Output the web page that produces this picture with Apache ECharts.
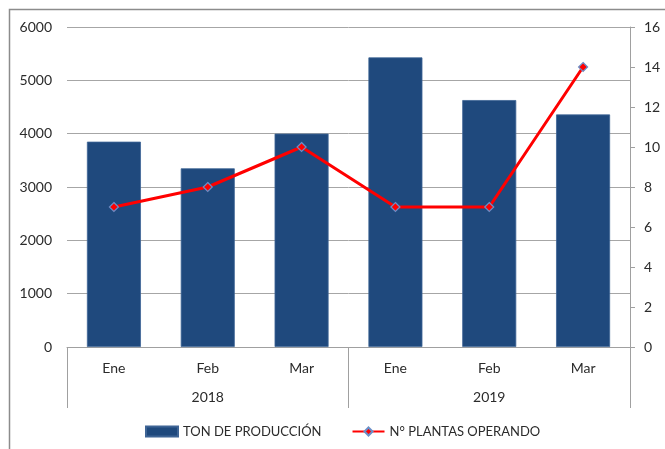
<!DOCTYPE html>
<html>
<head>
<meta charset="utf-8">
<script src="https://cdn.jsdelivr.net/npm/echarts@6/dist/echarts.min.js"></script>
<style>
html,body{margin:0;padding:0;background:#fff;}
#chart{width:665px;height:449px;}
</style>
</head>
<body>
<div id="chart"></div>
<script>
var months = ['Ene', 'Feb', 'Mar', 'Ene', 'Feb', 'Mar'];
var years = ['2018', '2019'];
var tonProduccion = [3850, 3350, 4000, 5430, 4630, 4360];
var plantasOperando = [7, 8, 10, 7, 7, 14];
var leftTicks = {min: 0, max: 6000, interval: 1000};
var rightTicks = {min: 0, max: 16, interval: 2};

var FONT = 'Lato, "Liberation Sans", sans-serif';
var TXT = '#2b2b2b';

var chart = echarts.init(document.getElementById('chart'), null, {renderer: 'canvas'});
chart.setOption({
  animation: false,
  backgroundColor: '#ffffff',
  textStyle: {fontFamily: FONT},
  graphic: [{
    type: 'rect',
    shape: {x: 9.5, y: 9.5, width: 700, height: 500},
    style: {fill: 'none', stroke: '#8c8c8c', lineWidth: 1.5},
    silent: true
  }],
  grid: {left: 67, right: 35, top: 27, bottom: 102, containLabel: false},
  legend: {
    bottom: 6,
    left: 140,
    itemWidth: 32,
    itemHeight: 10,
    itemGap: 30,
    textStyle: {fontFamily: FONT, fontSize: 13, color: TXT},
    data: [
      {name: 'TON DE PRODUCCIÓN', icon: 'rect'},
      {name: 'N° PLANTAS OPERANDO'}
    ]
  },
  xAxis: [{
    type: 'category',
    data: months,
    position: 'bottom',
    axisLine: {show: true, lineStyle: {color: '#a0a0a0', width: 1}},
    axisTick: {show: false},
    axisLabel: {fontFamily: FONT, fontSize: 14, color: TXT, margin: 14}
  }, {
    type: 'category',
    data: years,
    position: 'bottom',
    axisLine: {show: false},
    axisTick: {show: true, length: 61, lineStyle: {color: '#a0a0a0', width: 1}},
    axisLabel: {fontFamily: FONT, fontSize: 14, color: TXT, margin: 43}
  }],
  yAxis: [{
    type: 'value',
    min: leftTicks.min, max: leftTicks.max, interval: leftTicks.interval,
    axisLine: {show: false},
    axisTick: {show: false},
    splitLine: {show: true, lineStyle: {color: '#a6a6a6', width: 1}},
    axisLabel: {fontFamily: FONT, fontSize: 14, color: TXT, margin: 15,
      formatter: function (v) { return String(v); }}
  }, {
    type: 'value',
    position: 'right',
    min: rightTicks.min, max: rightTicks.max, interval: rightTicks.interval,
    axisLine: {show: true, lineStyle: {color: '#a0a0a0', width: 1}},
    axisTick: {show: true, length: 5, lineStyle: {color: '#a0a0a0'}},
    splitLine: {show: false},
    axisLabel: {fontFamily: FONT, fontSize: 14, color: TXT, margin: 14,
      formatter: function (v) { return String(v); }}
  }],
  series: [{
    name: 'TON DE PRODUCCIÓN',
    type: 'bar',
    xAxisIndex: 0,
    yAxisIndex: 0,
    data: tonProduccion,
    barWidth: 54,
    itemStyle: {color: '#1F497D', borderColor: '#3e6495', borderWidth: 0.8}
  }, {
    name: 'N° PLANTAS OPERANDO',
    type: 'line',
    xAxisIndex: 0,
    yAxisIndex: 1,
    data: plantasOperando,
    symbol: 'diamond',
    symbolSize: 9,
    lineStyle: {color: '#FF0000', width: 3},
    itemStyle: {color: '#FF0000', borderColor: '#6a8fc8', borderWidth: 1.2}
  }]
});
</script>
</body>
</html>
